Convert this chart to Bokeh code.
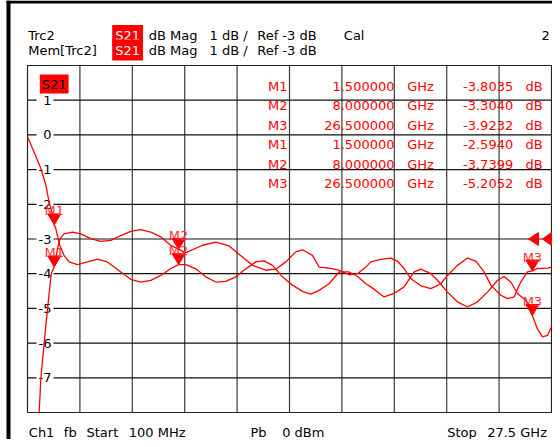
from bokeh.plotting import figure
from bokeh.models import Label, Range1d, BoxAnnotation
from bokeh.embed import file_html
from bokeh.resources import INLINE
from bokeh.core.properties import value

# ---------------- data ----------------
f_start, f_stop = 0.1, 27.5          # GHz
db_top, db_bottom = 2.0, -8.0        # dB (1 dB/div, Ref -3 dB)
ref_level = -3.0
x_div_ticks = [2.84, 5.58, 8.32, 11.06, 13.80, 16.54, 19.28, 22.02, 24.76]
y_ticks = [1, 0, -1, -2, -3, -4, -5, -6, -7]
y_tick_labels = ["1", "0", "-1", "-2", "-3", "-4", "-5", "-6", "-7"]

trc2_f = [0.71, 0.80, 0.97, 1.15, 1.34, 1.50, 1.67, 1.80, 2.01,
          2.45, 2.89, 3.41, 3.93, 4.46, 4.98, 5.50, 6.02, 6.55, 7.07,
          7.59, 8.00, 8.38, 9.25, 9.95, 10.64, 11.34, 11.87, 12.56, 13.08,
          13.61, 14.13, 14.48, 15.00, 15.35, 15.87, 16.39, 16.92, 17.36, 17.79,
          18.05, 18.57, 19.10, 19.45, 19.79, 20.14, 20.67, 21.19, 21.71, 22.06,
          22.58, 23.11, 23.54, 23.98, 24.33, 24.85, 25.20, 25.54, 25.89, 26.24,
          26.50, 26.77, 27.29, 27.50]
trc2_db = [-8.0, -7.0, -6.0, -5.0, -4.0, -3.80, -3.28, -2.99, -2.85,
           -2.80, -2.85, -2.99, -3.07, -3.04, -2.90, -2.78, -2.73, -2.80, -2.94,
           -3.18, -3.30, -3.39, -3.18, -3.09, -3.20, -3.52, -3.76, -3.90, -3.87,
           -3.66, -3.37, -3.31, -3.47, -3.81, -3.84, -3.90, -4.03, -4.00, -3.81,
           -3.66, -3.59, -3.55, -3.64, -3.85, -4.14, -4.35, -4.43, -4.29, -4.05,
           -3.76, -3.55, -3.64, -3.95, -4.33, -4.62, -4.72, -4.67, -4.24, -3.95,
           -3.92, -3.85, -3.84, -3.81]

mem_f = [0.10, 0.45, 0.80, 1.06, 1.23, 1.41, 1.50, 1.58, 1.70, 1.80,
         2.01, 2.28, 2.71, 3.24, 3.76, 4.28, 4.98, 5.50, 6.02, 6.55,
         7.07, 7.59, 8.00, 8.38, 8.90, 9.42, 9.95, 10.47, 10.99, 11.52,
         12.04, 12.47, 12.91, 13.43, 13.96, 14.48, 14.91, 15.35, 15.87, 16.39,
         16.92, 17.36, 17.79, 18.05, 18.75, 19.27, 19.79, 20.32, 20.67, 21.19,
         21.54, 22.06, 22.58, 23.11, 23.63, 24.15, 24.68, 25.02, 25.37, 25.72,
         26.16, 26.50, 26.77, 27.03, 27.29, 27.50]
mem_db = [-0.05, -0.50, -0.97, -1.45, -1.94, -2.30, -2.594, -2.70, -2.98, -3.20,
          -3.47, -3.66, -3.74, -3.66, -3.58, -3.66, -3.95, -4.16, -4.24, -4.19,
          -4.05, -3.85, -3.74, -3.74, -3.86, -4.09, -4.24, -4.22, -4.09, -3.86,
          -3.66, -3.63, -3.76, -4.09, -4.33, -4.51, -4.59, -4.48, -4.29, -3.95,
          -3.95, -4.08, -4.29, -4.38, -4.67, -4.57, -4.38, -3.95, -3.87, -4.00,
          -4.19, -4.53, -4.81, -4.96, -4.81, -4.53, -4.19, -4.08, -4.24, -4.57,
          -4.77, -5.205, -5.60, -5.82, -5.78, -5.53]

marker_names = ["M1", "M2", "M3"]
marker_f = [1.5, 8.0, 26.5]
trc2_marker_db = [-3.8035, -3.3040, -3.9232]
mem_marker_db = [-2.5940, -3.7399, -5.2052]

# ---------------- layout helpers (picture pixels -> data) ----------------
W, H = 552, 439
FL, FR, FT, FB = 27, 551, 65, 412      # grid box edges in the picture
FONT_NAME = "DejaVu Sans"
FONT = value(FONT_NAME)
FS = "13px"
RED = "#ff0000"


def gx(px):
    return f_start + (px - FL) / (FR - FL) * (f_stop - f_start)


def dy(py):
    return db_top - (py - FT) / (FB - FT) * (db_top - db_bottom)


def pw(n):
    return n / (FR - FL) * (f_stop - f_start)


def ph(n):
    return n / (FB - FT) * (db_top - db_bottom)


p = figure(width=W, height=H, output_backend="svg", toolbar_location=None,
           x_axis_location=None, y_axis_location=None,
           x_range=Range1d(gx(0), gx(W)), y_range=Range1d(dy(H), dy(0)),
           min_border=0, background_fill_color="white",
           border_fill_color="white")
p.outline_line_color = None
p.xgrid.visible = False
p.ygrid.visible = False

# graticule
n = len(x_div_ticks)
p.segment(x0=x_div_ticks, y0=[db_bottom] * n, x1=x_div_ticks, y1=[db_top] * n,
          line_color="#3a3a3a", line_width=1.2)
m = len(y_ticks)
p.segment(x0=[f_start] * m, y0=y_ticks, x1=[f_stop] * m, y1=y_ticks,
          line_color="#111111", line_width=1.2)
p.quad(left=[f_start], right=[f_stop], bottom=[db_bottom], top=[db_top],
       fill_color=None, line_color="#222222", line_width=1.2)

# y labels with white boxes inside the grid
p.rect(x=[gx(44.5)] * m, y=y_ticks, width=17, height=12,
       width_units="screen", height_units="screen",
       fill_color="white", line_color=None)
p.text(x=[gx(51)] * m, y=y_ticks, text=y_tick_labels,
       text_align="right", text_baseline="middle", text_font=FONT,
       text_font_size=FS, text_color="black")

# traces
p.line(trc2_f, trc2_db, line_color=RED, line_width=1.3)
p.line(mem_f, mem_db, line_color=RED, line_width=1.3)

# markers (downward triangles, tip on the trace)
all_mf = marker_f + marker_f
all_mv = trc2_marker_db + mem_marker_db
tri_xs = [[f - pw(6.5), f + pw(6.5), f] for f in all_mf]
tri_ys = [[v + ph(11), v + ph(11), v] for v in all_mv]
p.patches(tri_xs, tri_ys, fill_color=RED, line_color=RED)
p.text(x=all_mf, y=all_mv, text=marker_names + marker_names,
       text_align="center", text_baseline="alphabetic", y_offset=-14,
       text_font=FONT, text_font_size=FS, text_color="#ff3030")

# reference level arrows on the right edge
arr_xs = [[gx(528), gx(538), gx(538)], [gx(542), gx(551), gx(551)]]
arr_ys = [[ref_level, ref_level + ph(6.5), ref_level - ph(6.5)]] * 2
p.patches(arr_xs, arr_ys, fill_color=RED, line_color=RED)


def lab(px, py, txt, align="left", color="black", bg=None, pad=0):
    kw = {}
    if bg is not None:
        kw = dict(background_fill_color=bg, background_fill_alpha=1.0, padding=pad)
    p.add_layout(Label(x=gx(px), y=dy(py), text=txt, text_align=align,
                       text_baseline="alphabetic", text_font=FONT_NAME,
                       text_font_size=FS, text_color=color, **kw))


# header
L1, L2 = 35, 49.5
lab(27.7, L1, "Trc2")
lab(27.7, L2, "Mem[Trc2]")
for yy in (L1, L2):
    lab(111.7, yy, "S21", color="white", bg=RED, pad=3)
    lab(148.3, yy, "dB Mag")
    lab(209, yy, "1 dB /")
    lab(256.7, yy, "Ref %d dB" % ref_level)
lab(343.3, L1, "Cal")
lab(549.3, L1, "2", align="right")

# S21 tag inside the plot
lab(39.3, 83.5, "S21", color="black", bg=RED, pad=2)

# marker table
rows = [(nm, f, v) for nm, f, v in zip(marker_names, marker_f, trc2_marker_db)] + \
       [(nm, f, v) for nm, f, v in zip(marker_names, marker_f, mem_marker_db)]
for i, (nm, f, v) in enumerate(rows):
    yy = 85.5 + 19.5 * i
    lab(287, yy, nm, align="right", color=RED)
    lab(394, yy, "%.6f" % f, align="right", color=RED)
    lab(406.7, yy, "GHz", color=RED)
    lab(512.7, yy, "%.4f" % v, align="right", color=RED)
    lab(525, yy, "dB", color=RED)

# footer
FY = 432
lab(28.3, FY, "Ch1")
lab(63.3, FY, "fb")
lab(86, FY, "Start")
lab(128.3, FY, "%d MHz" % round(f_start * 1000))
lab(250, FY, "Pb")
lab(281.7, FY, "0 dBm")
lab(446.7, FY, "Stop")
lab(486.7, FY, "%.1f GHz" % f_stop)

# instrument window border (left and top edges)
for (l, r, t, b) in [(6, 10, 0, H), (6, W, 0, 3)]:
    p.add_layout(BoxAnnotation(left=gx(l), right=gx(r), top=dy(t), bottom=dy(b),
                               fill_color="black", fill_alpha=1.0,
                               line_alpha=0.0))

open("out.html", "w").write(file_html(p, INLINE))
